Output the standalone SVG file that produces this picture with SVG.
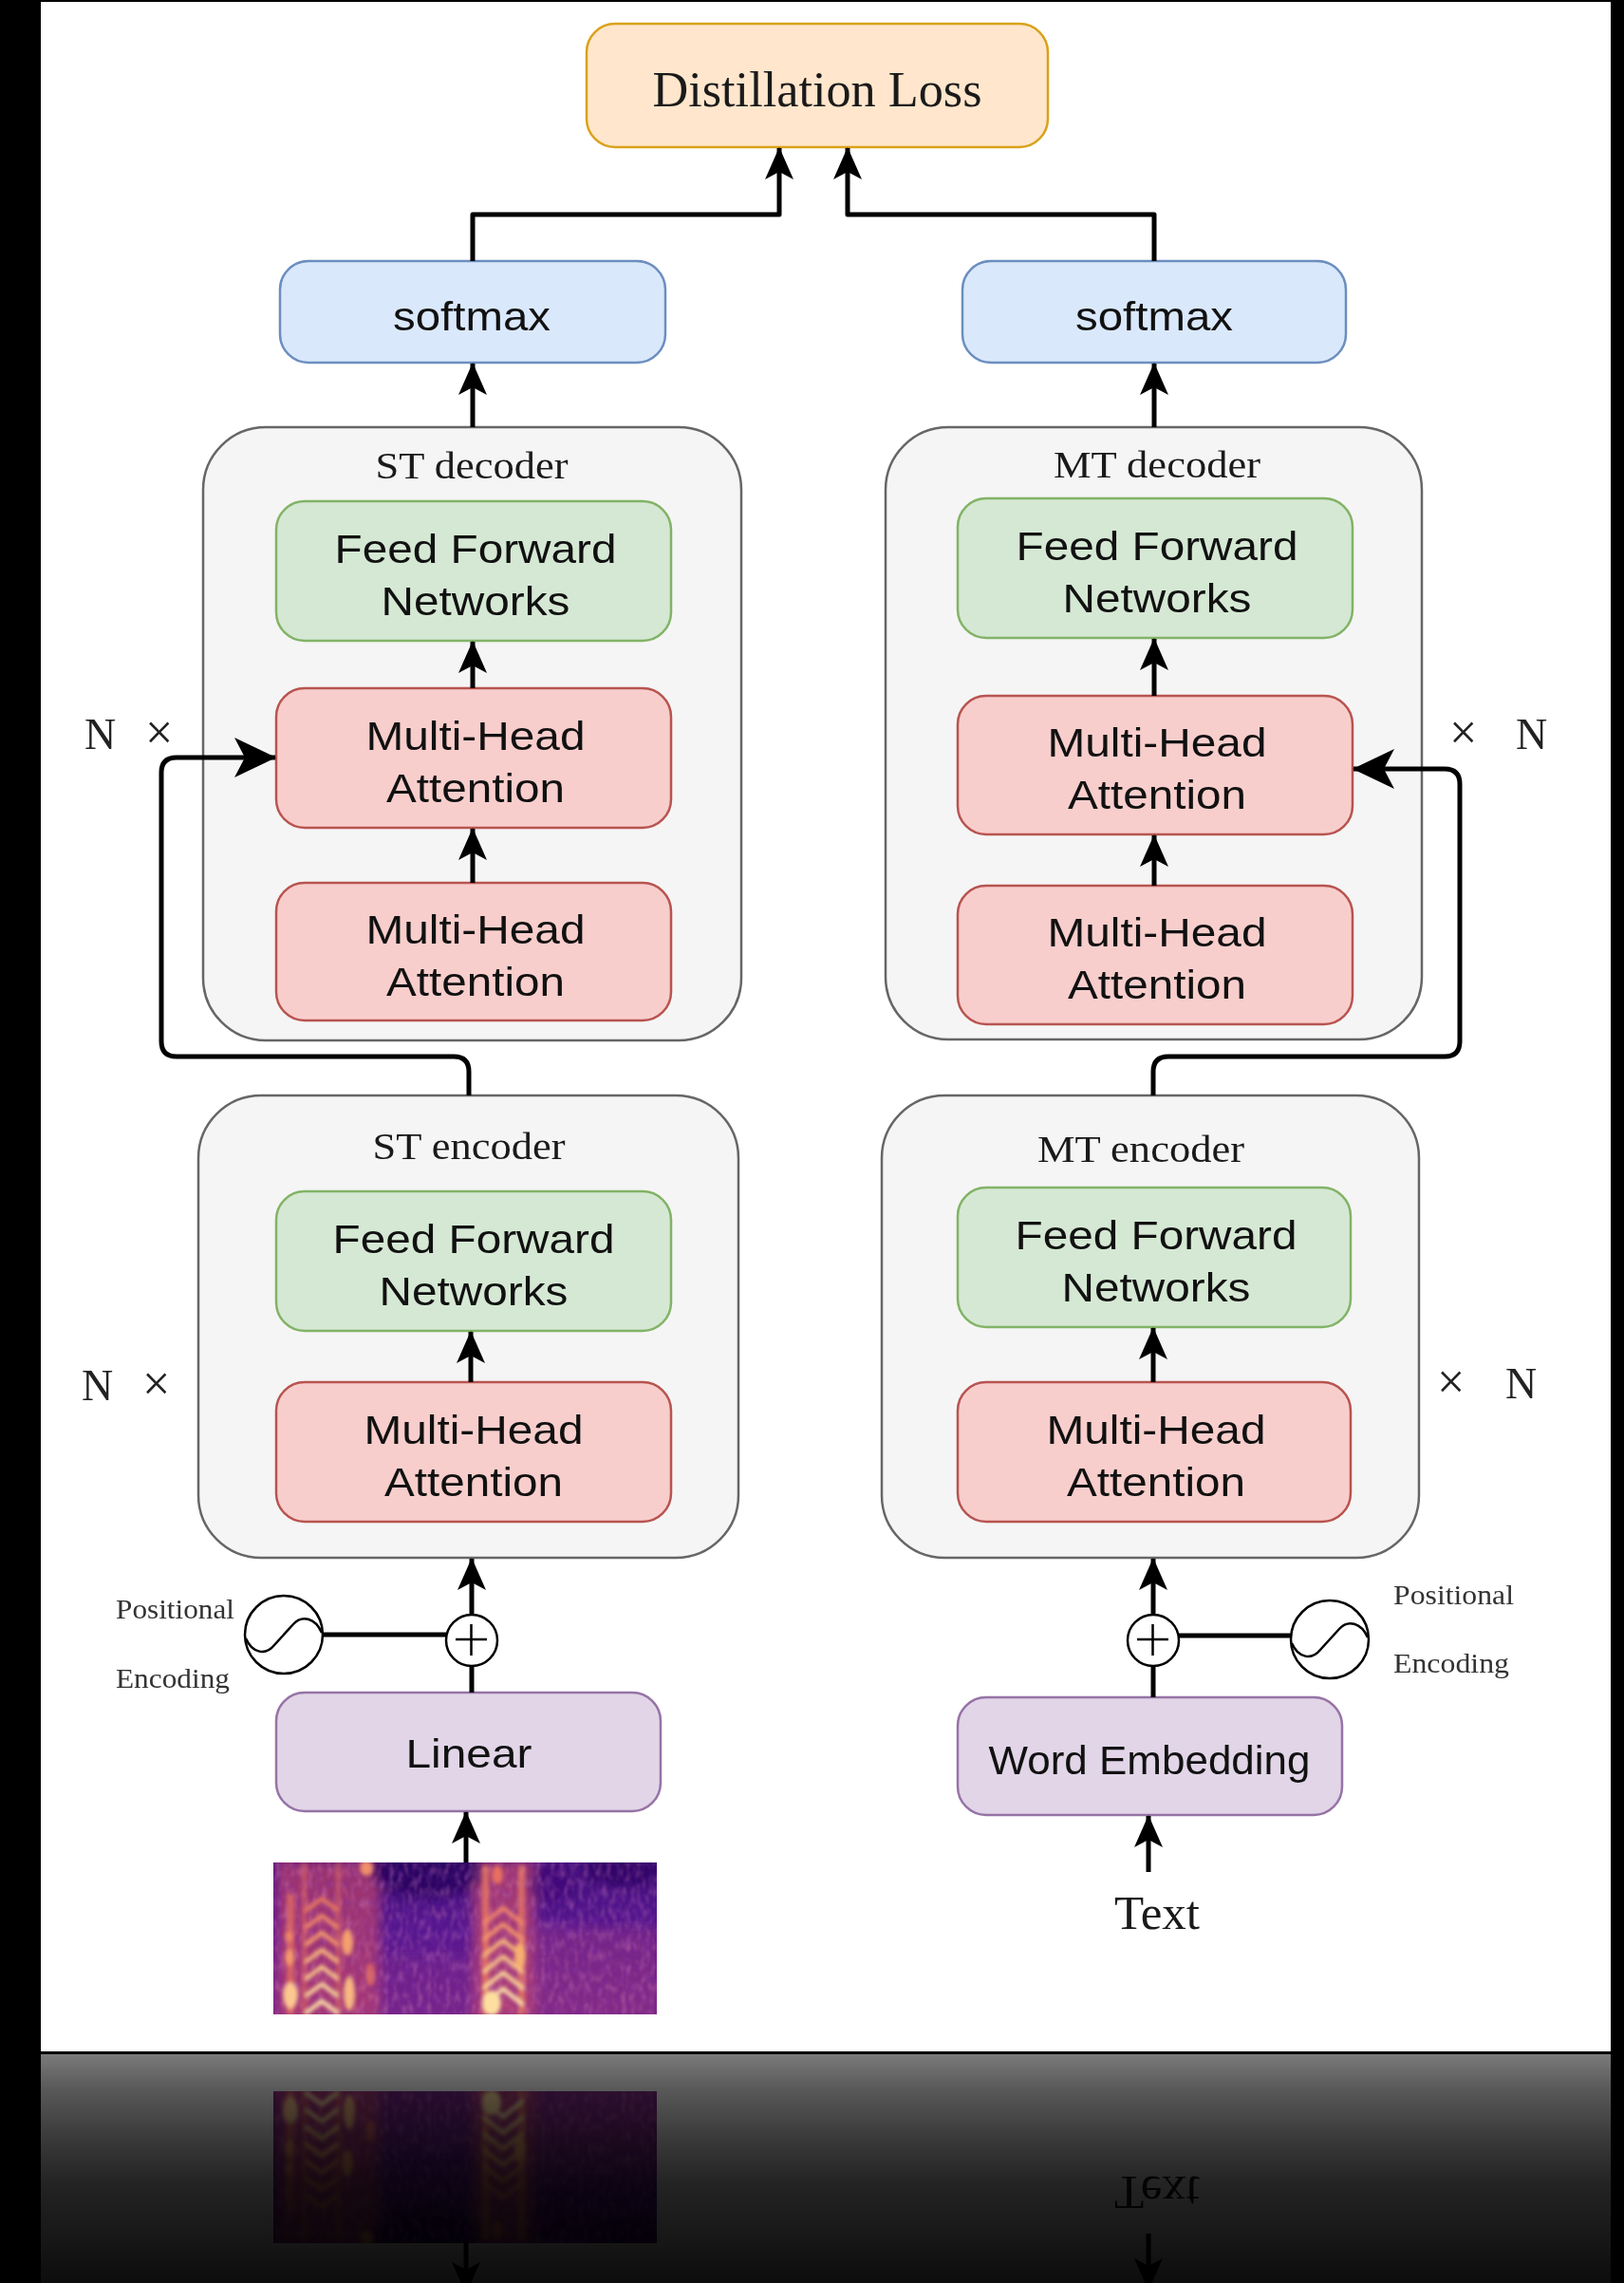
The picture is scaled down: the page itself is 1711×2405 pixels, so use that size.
<svg xmlns="http://www.w3.org/2000/svg" xmlns:xlink="http://www.w3.org/1999/xlink" width="1711" height="2405" viewBox="0 0 1711 2405">
  <style>
    .serif { font-family: "Liberation Serif", "Times New Roman", serif; fill: #1a1a1a; text-anchor: middle; }
    .sans { font-family: "Liberation Sans", Arial, sans-serif; font-size: 43px; fill: #111111; text-anchor: middle; }
    .small { font-family: "Liberation Serif", "Times New Roman", serif; font-size: 29px; fill: #333333; }
    .mult { font-family: "Liberation Serif", "Times New Roman", serif; font-size: 46px; fill: #222222; }
    .container { fill: #f5f5f5; stroke: #666666; stroke-width: 2.5; }
    .ffn { fill: #d5e8d4; stroke: #82b366; stroke-width: 2.5; }
    .mha { fill: #f8cecc; stroke: #b85450; stroke-width: 2.5; }
    .soft { fill: #dae8fc; stroke: #6c8ebf; stroke-width: 2.5; }
    .embed { fill: #e1d5e7; stroke: #9673a6; stroke-width: 2.5; }
    .loss { fill: #ffe6cc; stroke: #d9a21b; stroke-width: 2.5; }
    .edge { fill: none; stroke: #000000; stroke-width: 5; stroke-linejoin: round; }
    .arrow { marker-end: url(#head); }
    .arrow-big { marker-end: url(#headBig); }
    .ring { fill: #ffffff; stroke: #000000; stroke-width: 2.5; }
    .thin { fill: none; stroke: #000000; stroke-width: 2.5; }
  </style>
  <defs>
    <marker id="head" markerUnits="userSpaceOnUse" viewBox="0 0 34 30" refX="33" refY="15" markerWidth="34" markerHeight="30" orient="auto">
      <path d="M0,0 L34,15 L0,30 L8,15 Z" fill="#000000"/>
    </marker>
    <marker id="headBig" markerUnits="userSpaceOnUse" viewBox="0 0 44 42" refX="43" refY="21" markerWidth="44" markerHeight="42" orient="auto">
      <path d="M0,0 L44,21 L0,42 L11,21 Z" fill="#000000"/>
    </marker>
    <linearGradient id="specBase" x1="0" y1="0" x2="0" y2="1">
      <stop offset="0" stop-color="#43107c"/>
      <stop offset="0.45" stop-color="#561790"/>
      <stop offset="1" stop-color="#74248c"/>
    </linearGradient>
    <linearGradient id="fade" x1="0" y1="0" x2="0" y2="1">
      <stop offset="0" stop-color="#000000" stop-opacity="0.52"/>
      <stop offset="0.15" stop-color="#000000" stop-opacity="0.65"/>
      <stop offset="0.36" stop-color="#000000" stop-opacity="0.77"/>
      <stop offset="0.56" stop-color="#000000" stop-opacity="0.86"/>
      <stop offset="1" stop-color="#000000" stop-opacity="0.95"/>
    </linearGradient>
    <filter id="soft6" x="-30%" y="-30%" width="160%" height="160%">
      <feGaussianBlur stdDeviation="6"/>
    </filter>
    <filter id="soft2" x="-20%" y="-20%" width="140%" height="140%">
      <feGaussianBlur stdDeviation="2"/>
    </filter>
    <filter id="grain" x="0" y="0" width="1" height="1">
      <feTurbulence type="fractalNoise" baseFrequency="0.2 0.09" numOctaves="2" seed="7"/>
      <feColorMatrix type="matrix" values="0 0 0 0 0.72  0 0 0 0 0.24  0 0 0 0 0.5  0 0 0 1.3 -0.58"/>
      <feGaussianBlur stdDeviation="1"/>
      <feComposite in2="SourceGraphic" operator="in"/>
    </filter>
    <filter id="grainDark" x="0" y="0" width="1" height="1">
      <feTurbulence type="fractalNoise" baseFrequency="0.18 0.1" numOctaves="2" seed="19"/>
      <feColorMatrix type="matrix" values="0 0 0 0 0.2  0 0 0 0 0.03  0 0 0 0 0.42  0 0 0 1.2 -0.55"/>
      <feGaussianBlur stdDeviation="1"/>
      <feComposite in2="SourceGraphic" operator="in"/>
    </filter>
    <clipPath id="specClip">
      <rect x="288" y="1962" width="404" height="160"/>
    </clipPath>
    <clipPath id="reflClip">
      <rect x="43" y="2164" width="1654" height="241"/>
    </clipPath>
  </defs>

  <!-- frame and page -->
  <rect x="0" y="0" width="1711" height="2405" fill="#000000"/>
  <rect x="43" y="2" width="1654" height="2159" fill="#ffffff"/>

  <!-- input spectrogram -->
  <g id="spectrogram" clip-path="url(#specClip)">
    <rect x="288" y="1962" width="404" height="160" fill="url(#specBase)"/>
    <g filter="url(#soft6)">
      <rect x="290" y="1955" width="14" height="175" fill="#b33a73" opacity="0.7"/>
      <rect x="300" y="1960" width="100" height="170" fill="#b8406e" opacity="0.75"/>
      <rect x="498" y="1960" width="66" height="170" fill="#c04870" opacity="0.75"/>
      <rect x="565" y="2030" width="130" height="95" fill="#9a3480" opacity="0.45"/>
      <rect x="400" y="2060" width="100" height="65" fill="#7a2a8a" opacity="0.4"/>
      <ellipse cx="450" cy="1972" rx="60" ry="28" fill="#22075a" opacity="0.75"/>
      <ellipse cx="660" cy="1970" rx="45" ry="18" fill="#2a0860" opacity="0.7"/>
      <ellipse cx="580" cy="1985" rx="25" ry="20" fill="#3a0c72" opacity="0.5"/>
    </g>
    <rect x="288" y="1962" width="404" height="160" filter="url(#grainDark)" opacity="0.7"/>
    <rect x="288" y="1962" width="404" height="160" filter="url(#grain)" opacity="0.7"/>
    <g filter="url(#soft2)">
      <!-- first word -->
      <rect x="302" y="1995" width="8" height="127" fill="#ef7a5c" opacity="0.65"/>
      <rect x="318" y="1962" width="5" height="160" fill="#e8705e" opacity="0.55"/>
      <rect x="354" y="1962" width="5" height="160" fill="#e8705e" opacity="0.5"/>
      <ellipse cx="306" cy="2102" rx="8" ry="14" fill="#fcc890"/>
      <ellipse cx="305" cy="2062" rx="5" ry="9" fill="#f59a6a"/>
      <ellipse cx="304" cy="2040" rx="4" ry="6" fill="#f08a66"/>
      <g fill="none" stroke-width="4.5" stroke-linejoin="round" stroke-linecap="round">
        <path d="M323,2012 L339,2000 L355,2012" stroke="#e87a62"/>
        <path d="M323,2030 L339,2018 L355,2030" stroke="#f08a66"/>
        <path d="M323,2048 L339,2036 L355,2048" stroke="#f59a6a"/>
        <path d="M323,2066 L339,2054 L355,2066" stroke="#f9b878"/>
        <path d="M323,2084 L339,2072 L355,2084" stroke="#fbc888"/>
        <path d="M323,2102 L339,2090 L355,2102" stroke="#fdd898"/>
        <path d="M323,2120 L339,2108 L355,2120" stroke="#fde3a8"/>
      </g>
      <ellipse cx="366" cy="2046" rx="6" ry="14" fill="#f5a070"/>
      <ellipse cx="368" cy="2100" rx="6" ry="18" fill="#f8b880"/>
      <ellipse cx="386" cy="1968" rx="7" ry="8" fill="#f0906a"/>
      <ellipse cx="390" cy="2080" rx="5" ry="12" fill="#e27062" opacity="0.8"/>
      <!-- second word -->
      <rect x="508" y="1965" width="7" height="157" fill="#f08060" opacity="0.75"/>
      <rect x="546" y="1965" width="7" height="157" fill="#f08060" opacity="0.7"/>
      <g fill="none" stroke-width="4.5" stroke-linejoin="round" stroke-linecap="round">
        <path d="M510,2026 L530,2010 L550,2026" stroke="#f0866a"/>
        <path d="M510,2043 L530,2027 L550,2043" stroke="#f5966c"/>
        <path d="M510,2060 L530,2044 L550,2060" stroke="#f9b878"/>
        <path d="M510,2077 L530,2061 L550,2077" stroke="#fbc888"/>
        <path d="M510,2094 L530,2078 L550,2094" stroke="#fcd898"/>
        <path d="M510,2111 L530,2095 L550,2111" stroke="#fde3a8"/>
      </g>
      <ellipse cx="518" cy="2110" rx="10" ry="13" fill="#fde0a0"/>
      <ellipse cx="548" cy="2060" rx="6" ry="14" fill="#f8b070"/>
      <ellipse cx="524" cy="1975" rx="6" ry="10" fill="#e8705e"/>
    </g>
  </g>

  <!-- containers -->
  <g id="st-decoder">
    <rect class="container" x="214" y="450" width="567" height="646" rx="66" ry="66"/>
    <text class="serif" x="497" y="504" font-size="40" textLength="203" lengthAdjust="spacingAndGlyphs">ST decoder</text>
  </g>
  <g id="mt-decoder">
    <rect class="container" x="933" y="450" width="565" height="645" rx="66" ry="66"/>
    <text class="serif" x="1219" y="503" font-size="40" textLength="218" lengthAdjust="spacingAndGlyphs">MT decoder</text>
  </g>
  <g id="st-encoder">
    <rect class="container" x="209" y="1154" width="569" height="487" rx="66" ry="66"/>
    <text class="serif" x="494" y="1221" font-size="40" textLength="203" lengthAdjust="spacingAndGlyphs">ST encoder</text>
  </g>
  <g id="mt-encoder">
    <rect class="container" x="929" y="1154" width="566" height="487" rx="66" ry="66"/>
    <text class="serif" x="1202" y="1224" font-size="40" textLength="218" lengthAdjust="spacingAndGlyphs">MT encoder</text>
  </g>

  <!-- output side -->
  <g id="distillation-loss">
    <rect class="loss" x="618" y="25" width="486" height="130" rx="30" ry="30"/>
    <text class="serif" x="861" y="112" font-size="52" textLength="347" lengthAdjust="spacingAndGlyphs">Distillation Loss</text>
  </g>
  <g id="softmax-st">
    <rect class="soft" x="295" y="275" width="406" height="107" rx="30" ry="30"/>
    <text class="sans" x="497" y="348" textLength="166" lengthAdjust="spacingAndGlyphs">softmax</text>
  </g>
  <g id="softmax-mt">
    <rect class="soft" x="1014" y="275" width="404" height="107" rx="30" ry="30"/>
    <text class="sans" x="1216" y="348" textLength="166" lengthAdjust="spacingAndGlyphs">softmax</text>
  </g>

  <!-- ST decoder blocks -->
  <g id="st-dec-ffn">
    <rect class="ffn" x="291" y="528" width="416" height="147" rx="30" ry="30"/>
    <text class="sans"><tspan x="501" y="593" textLength="297" lengthAdjust="spacingAndGlyphs">Feed Forward</tspan><tspan x="501" y="648" textLength="199" lengthAdjust="spacingAndGlyphs">Networks</tspan></text>
  </g>
  <g id="st-dec-cross-attn">
    <rect class="mha" x="291" y="725" width="416" height="147" rx="30" ry="30"/>
    <text class="sans"><tspan x="501" y="790" textLength="231" lengthAdjust="spacingAndGlyphs">Multi-Head</tspan><tspan x="501" y="845" textLength="188" lengthAdjust="spacingAndGlyphs">Attention</tspan></text>
  </g>
  <g id="st-dec-self-attn">
    <rect class="mha" x="291" y="930" width="416" height="145" rx="30" ry="30"/>
    <text class="sans"><tspan x="501" y="994" textLength="231" lengthAdjust="spacingAndGlyphs">Multi-Head</tspan><tspan x="501" y="1049" textLength="188" lengthAdjust="spacingAndGlyphs">Attention</tspan></text>
  </g>

  <!-- MT decoder blocks -->
  <g id="mt-dec-ffn">
    <rect class="ffn" x="1009" y="525" width="416" height="147" rx="30" ry="30"/>
    <text class="sans"><tspan x="1219" y="590" textLength="297" lengthAdjust="spacingAndGlyphs">Feed Forward</tspan><tspan x="1219" y="645" textLength="199" lengthAdjust="spacingAndGlyphs">Networks</tspan></text>
  </g>
  <g id="mt-dec-cross-attn">
    <rect class="mha" x="1009" y="733" width="416" height="146" rx="30" ry="30"/>
    <text class="sans"><tspan x="1219" y="797" textLength="231" lengthAdjust="spacingAndGlyphs">Multi-Head</tspan><tspan x="1219" y="852" textLength="188" lengthAdjust="spacingAndGlyphs">Attention</tspan></text>
  </g>
  <g id="mt-dec-self-attn">
    <rect class="mha" x="1009" y="933" width="416" height="146" rx="30" ry="30"/>
    <text class="sans"><tspan x="1219" y="997" textLength="231" lengthAdjust="spacingAndGlyphs">Multi-Head</tspan><tspan x="1219" y="1052" textLength="188" lengthAdjust="spacingAndGlyphs">Attention</tspan></text>
  </g>

  <!-- ST encoder blocks -->
  <g id="st-enc-ffn">
    <rect class="ffn" x="291" y="1255" width="416" height="147" rx="30" ry="30"/>
    <text class="sans"><tspan x="499" y="1320" textLength="297" lengthAdjust="spacingAndGlyphs">Feed Forward</tspan><tspan x="499" y="1375" textLength="199" lengthAdjust="spacingAndGlyphs">Networks</tspan></text>
  </g>
  <g id="st-enc-attn">
    <rect class="mha" x="291" y="1456" width="416" height="147" rx="30" ry="30"/>
    <text class="sans"><tspan x="499" y="1521" textLength="231" lengthAdjust="spacingAndGlyphs">Multi-Head</tspan><tspan x="499" y="1576" textLength="188" lengthAdjust="spacingAndGlyphs">Attention</tspan></text>
  </g>

  <!-- MT encoder blocks -->
  <g id="mt-enc-ffn">
    <rect class="ffn" x="1009" y="1251" width="414" height="147" rx="30" ry="30"/>
    <text class="sans"><tspan x="1218" y="1316" textLength="297" lengthAdjust="spacingAndGlyphs">Feed Forward</tspan><tspan x="1218" y="1371" textLength="199" lengthAdjust="spacingAndGlyphs">Networks</tspan></text>
  </g>
  <g id="mt-enc-attn">
    <rect class="mha" x="1009" y="1456" width="414" height="147" rx="30" ry="30"/>
    <text class="sans"><tspan x="1218" y="1521" textLength="231" lengthAdjust="spacingAndGlyphs">Multi-Head</tspan><tspan x="1218" y="1576" textLength="188" lengthAdjust="spacingAndGlyphs">Attention</tspan></text>
  </g>

  <!-- input layers -->
  <g id="linear">
    <rect class="embed" x="291" y="1783" width="405" height="125" rx="30" ry="30"/>
    <text class="sans" x="494" y="1862" textLength="133" lengthAdjust="spacingAndGlyphs">Linear</text>
  </g>
  <g id="word-embedding">
    <rect class="embed" x="1009" y="1788" width="405" height="124" rx="30" ry="30"/>
    <text class="sans" x="1211" y="1869" font-size="40" textLength="339" lengthAdjust="spacingAndGlyphs">Word Embedding</text>
  </g>
  <g id="text-input">
    <text id="input-text" class="serif" x="1219" y="2032" font-size="51">Text</text>
  </g>

  <!-- positional encodings -->
  <g id="pos-enc-st">
    <circle class="ring" cx="299" cy="1722" r="41"/>
    <path class="thin" d="M259,1726 C266,1742 280,1744 289,1733 L309,1711 C318,1701 332,1704 339,1720"/>
    <text class="small" x="122" y="1705" textLength="125" lengthAdjust="spacingAndGlyphs">Positional</text>
    <text class="small" x="122" y="1778" textLength="120" lengthAdjust="spacingAndGlyphs">Encoding</text>
  </g>
  <g id="add-st">
    <circle class="ring" cx="497" cy="1728" r="27"/>
    <path class="thin" d="M480,1727 H513 M496.5,1711 V1744" stroke-width="3"/>
  </g>
  <g id="pos-enc-mt">
    <circle class="ring" cx="1401" cy="1727" r="41"/>
    <path class="thin" d="M1361,1731 C1368,1747 1382,1749 1391,1738 L1411,1716 C1420,1706 1434,1709 1441,1725"/>
    <text class="small" x="1468" y="1690" textLength="127" lengthAdjust="spacingAndGlyphs">Positional</text>
    <text class="small" x="1468" y="1762" textLength="122" lengthAdjust="spacingAndGlyphs">Encoding</text>
  </g>
  <g id="add-mt">
    <circle class="ring" cx="1215" cy="1728" r="27"/>
    <path class="thin" d="M1198,1727 H1231 M1214.5,1711 V1744" stroke-width="3"/>
  </g>

  <!-- repetition marks -->
  <g id="repeat-labels">
    <text class="mult" x="89" y="789">N<tspan x="153" font-size="52">×</tspan></text>
    <text class="mult" x="1527" y="789"><tspan font-size="52">×</tspan><tspan x="1597">N</tspan></text>
    <text class="mult" x="86" y="1475">N<tspan x="150" font-size="52">×</tspan></text>
    <text class="mult" x="1514" y="1473"><tspan font-size="52">×</tspan><tspan x="1586">N</tspan></text>
  </g>

  <!-- connectors -->
  <g id="connectors">
    <path class="edge arrow" d="M498,275 V226 H821 V156"/>
    <path class="edge arrow" d="M1216,275 V226 H893 V156"/>
    <path class="edge arrow" d="M498,450 V383"/>
    <path class="edge arrow" d="M1216,450 V383"/>
    <path class="edge arrow" d="M498,725 V676"/>
    <path class="edge arrow" d="M498,930 V873"/>
    <path class="edge arrow" d="M1216,733 V673"/>
    <path class="edge arrow" d="M1216,933 V880"/>
    <path class="edge arrow" d="M496,1456 V1403"/>
    <path class="edge arrow" d="M1215,1456 V1399"/>
    <path class="edge arrow-big" d="M494,1154 V1129 Q494,1113 478,1113 H186 Q170,1113 170,1097 V814 Q170,798 186,798 H290"/>
    <path class="edge arrow-big" d="M1215,1154 V1129 Q1215,1113 1231,1113 H1522 Q1538,1113 1538,1097 V826 Q1538,810 1522,810 H1426"/>
    <path class="edge arrow" d="M497,1701 V1642"/>
    <path class="edge arrow" d="M1215,1701 V1642"/>
    <path class="edge" d="M497,1783 V1755"/>
    <path class="edge" d="M1215,1788 V1755"/>
    <path class="edge" d="M340,1722 H470"/>
    <path class="edge" d="M1242,1723 H1360" stroke-width="3.5"/>
    <path id="arrow-spec" class="edge arrow" d="M491,1962 V1909"/>
    <path id="arrow-text" class="edge arrow" d="M1210,1972 V1913"/>
  </g>

  <!-- floor reflection -->
  <g id="reflection">
    <rect x="43" y="2161" width="1654" height="3" fill="#000000"/>
    <rect x="43" y="2164" width="1654" height="241" fill="#ffffff"/>
    <g clip-path="url(#reflClip)">
      <g transform="matrix(1 0 0 -1 0 4325)">
        <use href="#spectrogram"/>
        <use href="#input-text"/>
        <use href="#arrow-spec"/>
        <use href="#arrow-text"/>
      </g>
    </g>
    <rect x="43" y="2164" width="1654" height="241" fill="url(#fade)"/>
  </g>
</svg>
